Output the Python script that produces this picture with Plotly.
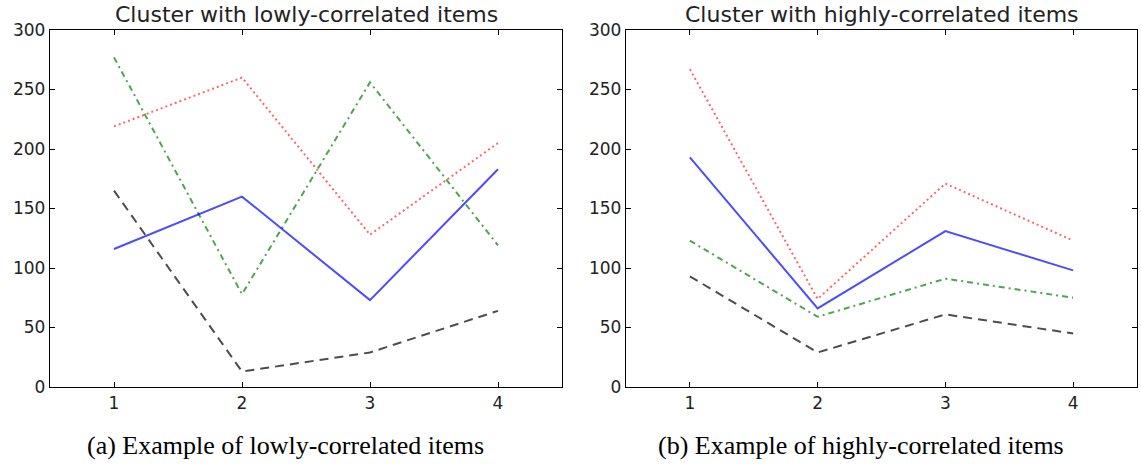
import plotly.graph_objects as go

x_vals = [1, 2, 3, 4]

# Left panel: lowly-correlated items
low_red = [219, 260, 128, 205]
low_green = [277, 78, 256, 119]
low_blue = [116, 160, 73, 183]
low_black = [165, 13, 29, 64]

# Right panel: highly-correlated items
high_red = [267, 74, 171, 123]
high_blue = [193, 66, 131, 98]
high_green = [123, 59, 91, 75]
high_black = [93, 29, 61, 45]

titles = ["Cluster with lowly-correlated items", "Cluster with highly-correlated items"]
captions = ["(a) Example of lowly-correlated items", "(b) Example of highly-correlated items"]
y_ticks = [0, 50, 100, 150, 200, 250, 300]

styles = {
    "red": dict(color="rgba(255,0,0,0.6)", width=2, dash="2px,3px"),
    "green": dict(color="rgba(0,128,0,0.7)", width=2, dash="6px,4px,2px,4px"),
    "blue": dict(color="rgba(0,0,255,0.7)", width=2, dash="solid"),
    "black": dict(color="rgba(0,0,0,0.7)", width=2, dash="9px,6px"),
}

fig = go.Figure()
panels = [
    (("x", "y"), {"red": low_red, "green": low_green, "blue": low_blue, "black": low_black}),
    (("x2", "y2"), {"red": high_red, "green": high_green, "blue": high_blue, "black": high_black}),
]
for (xa, ya), series in panels:
    for name in ["red", "green", "blue", "black"]:
        fig.add_trace(go.Scatter(x=x_vals, y=series[name], mode="lines", line=styles[name],
                                 xaxis=xa, yaxis=ya, showlegend=False, hoverinfo="skip"))

L, R, T, B = 50, 4, 30, 80
W, H = 1141, 467
pw = W - L - R
d1 = [0, (562 - L) / pw]
d2 = [(626 - L) / pw, 1]

axis_common = dict(showgrid=False, zeroline=False, showline=True, linecolor="black", linewidth=1.3,
                   mirror="allticks", ticks="inside", ticklen=5, tickcolor="black", tickwidth=1,
                   automargin=False,
                   tickfont=dict(family="DejaVu Sans", size=17, color="#222"))

fig.update_layout(
    width=W, height=H,
    margin=dict(l=L, r=R, t=T, b=B),
    plot_bgcolor="white", paper_bgcolor="white",
    xaxis=dict(domain=d1, range=[0.5, 4.5], tickvals=x_vals, anchor="y", **axis_common),
    yaxis=dict(domain=[0, 1], range=[0, 300], tickvals=y_ticks, anchor="x", **axis_common),
    xaxis2=dict(domain=d2, range=[0.5, 4.5], tickvals=x_vals, anchor="y2", **axis_common),
    yaxis2=dict(domain=[0, 1], range=[0, 300], tickvals=y_ticks, anchor="x2", **axis_common),
)

# caption centres (pixels) -> paper coordinates
cap_centers_px = [285, 861]
for d, t, c, cpx in zip([d1, d2], titles, captions, cap_centers_px):
    cx = (d[0] + d[1]) / 2
    fig.add_annotation(text=t, x=cx, y=1, xref="paper", yref="paper", xanchor="center",
                       yanchor="bottom", yshift=1, showarrow=False,
                       font=dict(family="DejaVu Sans", size=22, color="#222"))
    fig.add_annotation(text=c, x=(cpx - L) / pw, y=0, xref="paper", yref="paper", xanchor="center",
                       yanchor="middle", yshift=-58, showarrow=False,
                       font=dict(family="Liberation Serif", size=26, color="black"))

fig.write_html("out.html", config={"displayModeBar": False},
               post_script="document.body.style.margin='0';")
